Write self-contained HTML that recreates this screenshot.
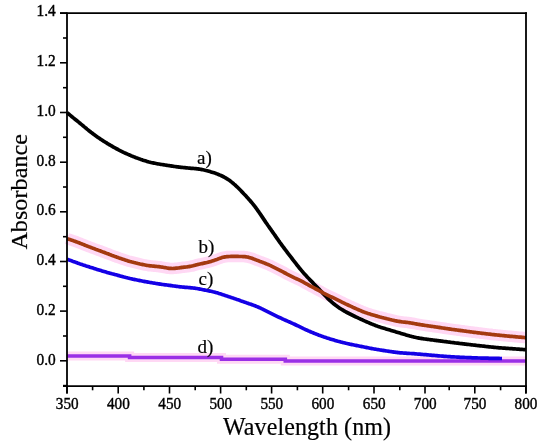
<!DOCTYPE html>
<html><head><meta charset="utf-8"><style>
html,body{margin:0;padding:0;background:#fff;}
svg{display:block;will-change:transform;}
.t{font-family:"Liberation Serif",serif;font-size:16px;fill:#000;stroke:#000;stroke-width:0.4px;}
.l{font-family:"Liberation Serif",serif;font-size:19px;fill:#000;stroke:#000;stroke-width:0.2px;}
.T{font-family:"Liberation Serif",serif;font-size:24px;fill:#000;stroke:#000;stroke-width:0.2px;}
</style></head><body>
<svg width="550" height="447" viewBox="0 0 550 447">
<rect width="550" height="447" fill="#fff"/>
<polyline points="67.0,238.5 68.0,238.9 69.0,239.2 70.0,239.6 71.0,239.9 72.0,240.3 73.0,240.6 74.0,241.0 75.0,241.3 76.0,241.7 77.0,242.1 78.0,242.4 79.0,242.8 80.0,243.2 81.0,243.6 82.0,244.0 83.0,244.4 84.0,244.8 85.0,245.2 86.0,245.6 87.0,246.0 88.0,246.4 89.0,246.8 90.0,247.1 91.0,247.5 92.0,247.9 93.0,248.3 94.0,248.6 95.0,249.0 96.0,249.4 97.0,249.7 98.0,250.1 99.0,250.5 100.0,250.8 101.0,251.2 102.0,251.6 103.0,252.0 104.0,252.3 105.0,252.7 106.0,253.1 107.0,253.5 108.0,253.8 109.0,254.2 110.0,254.6 111.0,255.0 112.0,255.4 113.0,255.7 114.0,256.1 115.0,256.5 116.0,256.8 117.0,257.2 118.0,257.5 119.0,257.9 120.0,258.2 121.0,258.6 122.0,258.9 123.0,259.3 124.0,259.6 125.0,259.9 126.0,260.3 127.0,260.6 128.0,260.9 129.0,261.2 130.0,261.5 131.0,261.7 132.0,262.0 133.0,262.2 134.0,262.5 135.0,262.7 136.0,263.0 137.0,263.2 138.0,263.5 139.0,263.7 140.0,264.0 141.0,264.2 142.0,264.4 143.0,264.6 144.0,264.8 145.0,265.0 146.0,265.2 147.0,265.4 148.0,265.5 149.0,265.7 150.0,265.8 151.0,265.9 152.0,266.0 153.0,266.1 154.0,266.2 155.0,266.3 156.0,266.4 157.0,266.5 158.0,266.6 159.0,266.7 160.0,266.8 161.0,267.0 162.0,267.1 163.0,267.3 164.0,267.5 165.0,267.6 166.0,267.8 167.0,268.0 168.0,268.2 169.0,268.3 170.0,268.4 171.0,268.4 172.0,268.5 173.0,268.5 174.0,268.4 175.0,268.3 176.0,268.2 177.0,268.1 178.0,268.0 179.0,267.9 180.0,267.7 181.0,267.6 182.0,267.4 183.0,267.3 184.0,267.2 185.0,267.1 186.0,267.0 187.0,266.9 188.0,266.7 189.0,266.6 190.0,266.4 191.0,266.2 192.0,266.0 193.0,265.8 194.0,265.5 195.0,265.2 196.0,264.9 197.0,264.7 198.0,264.4 199.0,264.2 200.0,264.0 201.0,263.8 202.0,263.6 203.0,263.4 204.0,263.1 205.0,262.9 206.0,262.7 207.0,262.5 208.0,262.2 209.0,261.9 210.0,261.7 211.0,261.4 212.0,261.1 213.0,260.7 214.0,260.4 215.0,260.1 216.0,259.7 217.0,259.4 218.0,259.0 219.0,258.6 220.0,258.2 221.0,257.9 222.0,257.6 223.0,257.3 224.0,257.1 225.0,256.9 226.0,256.8 227.0,256.6 228.0,256.6 229.0,256.5 230.0,256.5 231.0,256.4 232.0,256.4 233.0,256.4 234.0,256.4 235.0,256.4 236.0,256.4 237.0,256.4 238.0,256.4 239.0,256.5 240.0,256.5 241.0,256.5 242.0,256.5 243.0,256.6 244.0,256.6 245.0,256.7 246.0,256.8 247.0,257.0 248.0,257.1 249.0,257.4 250.0,257.7 251.0,258.0 252.0,258.3 253.0,258.7 254.0,259.1 255.0,259.5 256.0,259.9 257.0,260.3 258.0,260.6 259.0,261.0 260.0,261.4 261.0,261.7 262.0,262.1 263.0,262.5 264.0,262.9 265.0,263.3 266.0,263.7 267.0,264.1 268.0,264.5 269.0,264.9 270.0,265.4 271.0,265.8 272.0,266.3 273.0,266.8 274.0,267.3 275.0,267.8 276.0,268.3 277.0,268.8 278.0,269.3 279.0,269.8 280.0,270.3 281.0,270.9 282.0,271.4 283.0,271.9 284.0,272.5 285.0,273.0 286.0,273.5 287.0,274.1 288.0,274.6 289.0,275.1 290.0,275.6 291.0,276.1 292.0,276.6 293.0,277.1 294.0,277.6 295.0,278.1 296.0,278.5 297.0,279.0 298.0,279.4 299.0,279.9 300.0,280.4 301.0,280.9 302.0,281.4 303.0,281.9 304.0,282.5 305.0,283.1 306.0,283.6 307.0,284.2 308.0,284.7 309.0,285.3 310.0,285.8 311.0,286.4 312.0,286.9 313.0,287.4 314.0,287.9 315.0,288.5 316.0,289.0 317.0,289.5 318.0,290.0 319.0,290.6 320.0,291.1 321.0,291.7 322.0,292.2 323.0,292.8 324.0,293.3 325.0,293.8 326.0,294.3 327.0,294.8 328.0,295.3 329.0,295.8 330.0,296.3 331.0,296.8 332.0,297.2 333.0,297.7 334.0,298.2 335.0,298.7 336.0,299.2 337.0,299.7 338.0,300.2 339.0,300.7 340.0,301.2 341.0,301.7 342.0,302.2 343.0,302.6 344.0,303.1 345.0,303.6 346.0,304.1 347.0,304.5 348.0,305.0 349.0,305.5 350.0,305.9 351.0,306.4 352.0,306.8 353.0,307.3 354.0,307.8 355.0,308.2 356.0,308.6 357.0,309.1 358.0,309.5 359.0,310.0 360.0,310.4 361.0,310.8 362.0,311.3 363.0,311.7 364.0,312.1 365.0,312.4 366.0,312.8 367.0,313.1 368.0,313.5 369.0,313.8 370.0,314.1 371.0,314.4 372.0,314.7 373.0,315.0 374.0,315.3 375.0,315.6 376.0,315.9 377.0,316.1 378.0,316.4 379.0,316.7 380.0,317.0 381.0,317.2 382.0,317.5 383.0,317.7 384.0,318.0 385.0,318.2 386.0,318.5 387.0,318.8 388.0,319.0 389.0,319.2 390.0,319.5 391.0,319.7 392.0,320.0 393.0,320.2 394.0,320.4 395.0,320.7 396.0,320.9 397.0,321.1 398.0,321.3 399.0,321.4 400.0,321.6 401.0,321.7 402.0,321.9 403.0,322.0 404.0,322.1 405.0,322.2 406.0,322.3 407.0,322.4 408.0,322.5 409.0,322.7 410.0,322.8 411.0,323.0 412.0,323.2 413.0,323.3 414.0,323.5 415.0,323.7 416.0,323.9 417.0,324.1 418.0,324.3 419.0,324.4 420.0,324.6 421.0,324.8 422.0,324.9 423.0,325.1 424.0,325.2 425.0,325.4 426.0,325.5 427.0,325.7 428.0,325.8 429.0,326.0 430.0,326.1 431.0,326.3 432.0,326.4 433.0,326.5 434.0,326.7 435.0,326.8 436.0,327.0 437.0,327.1 438.0,327.3 439.0,327.4 440.0,327.6 441.0,327.7 442.0,327.9 443.0,328.0 444.0,328.2 445.0,328.3 446.0,328.5 447.0,328.6 448.0,328.8 449.0,328.9 450.0,329.1 451.0,329.2 452.0,329.4 453.0,329.5 454.0,329.6 455.0,329.8 456.0,329.9 457.0,330.0 458.0,330.2 459.0,330.3 460.0,330.4 461.0,330.6 462.0,330.7 463.0,330.8 464.0,331.0 465.0,331.1 466.0,331.2 467.0,331.4 468.0,331.5 469.0,331.6 470.0,331.8 471.0,331.9 472.0,332.0 473.0,332.2 474.0,332.3 475.0,332.4 476.0,332.5 477.0,332.7 478.0,332.8 479.0,332.9 480.0,333.0 481.0,333.2 482.0,333.3 483.0,333.4 484.0,333.5 485.0,333.6 486.0,333.8 487.0,333.9 488.0,334.0 489.0,334.1 490.0,334.2 491.0,334.3 492.0,334.5 493.0,334.6 494.0,334.7 495.0,334.8 496.0,334.9 497.0,335.0 498.0,335.1 499.0,335.2 500.0,335.3 501.0,335.4 502.0,335.5 503.0,335.6 504.0,335.7 505.0,335.8 506.0,335.9 507.0,336.0 508.0,336.1 509.0,336.2 510.0,336.3 511.0,336.3 512.0,336.4 513.0,336.5 514.0,336.6 515.0,336.7 516.0,336.8 517.0,336.9 518.0,337.0 519.0,337.1 520.0,337.2 521.0,337.2 522.0,337.3 523.0,337.4 524.0,337.5 525.0,337.6 526.0,337.7" fill="none" stroke="#ffd8f4" stroke-width="11.5" stroke-linejoin="miter"/>
<polyline points="67.0,356.0 129.6,356.0 129.6,357.5 221.5,357.5 221.5,359.2 285.3,359.2 285.3,361.0 526.0,361.0" fill="none" stroke="#ffd8f4" stroke-width="9"/>
<polyline points="67.0,356.0 129.6,356.0 129.6,357.5 221.5,357.5 221.5,359.2 285.3,359.2 285.3,361.0 526.0,361.0" fill="none" stroke="#9a2fe6" stroke-width="3.6"/>
<polyline points="67.0,259.2 68.0,259.6 69.0,259.9 70.0,260.3 71.0,260.6 72.0,261.0 73.0,261.4 74.0,261.7 75.0,262.1 76.0,262.4 77.0,262.8 78.0,263.2 79.0,263.5 80.0,263.9 81.0,264.2 82.0,264.5 83.0,264.9 84.0,265.2 85.0,265.5 86.0,265.9 87.0,266.2 88.0,266.5 89.0,266.8 90.0,267.2 91.0,267.5 92.0,267.8 93.0,268.1 94.0,268.4 95.0,268.7 96.0,269.1 97.0,269.4 98.0,269.7 99.0,270.0 100.0,270.3 101.0,270.6 102.0,270.9 103.0,271.2 104.0,271.5 105.0,271.8 106.0,272.1 107.0,272.4 108.0,272.7 109.0,272.9 110.0,273.2 111.0,273.5 112.0,273.8 113.0,274.0 114.0,274.3 115.0,274.6 116.0,274.8 117.0,275.1 118.0,275.4 119.0,275.6 120.0,275.9 121.0,276.2 122.0,276.4 123.0,276.7 124.0,277.0 125.0,277.2 126.0,277.5 127.0,277.7 128.0,278.0 129.0,278.2 130.0,278.5 131.0,278.7 132.0,278.9 133.0,279.2 134.0,279.4 135.0,279.6 136.0,279.8 137.0,280.0 138.0,280.2 139.0,280.4 140.0,280.6 141.0,280.8 142.0,281.0 143.0,281.2 144.0,281.4 145.0,281.6 146.0,281.7 147.0,281.9 148.0,282.1 149.0,282.3 150.0,282.5 151.0,282.6 152.0,282.8 153.0,283.0 154.0,283.1 155.0,283.3 156.0,283.5 157.0,283.6 158.0,283.8 159.0,283.9 160.0,284.1 161.0,284.2 162.0,284.4 163.0,284.5 164.0,284.7 165.0,284.8 166.0,284.9 167.0,285.0 168.0,285.2 169.0,285.3 170.0,285.4 171.0,285.6 172.0,285.7 173.0,285.9 174.0,286.0 175.0,286.1 176.0,286.3 177.0,286.4 178.0,286.5 179.0,286.7 180.0,286.8 181.0,286.9 182.0,287.0 183.0,287.1 184.0,287.2 185.0,287.3 186.0,287.3 187.0,287.4 188.0,287.5 189.0,287.6 190.0,287.7 191.0,287.8 192.0,287.9 193.0,288.0 194.0,288.1 195.0,288.2 196.0,288.4 197.0,288.5 198.0,288.7 199.0,288.9 200.0,289.1 201.0,289.3 202.0,289.5 203.0,289.7 204.0,289.9 205.0,290.1 206.0,290.3 207.0,290.5 208.0,290.7 209.0,290.9 210.0,291.1 211.0,291.3 212.0,291.5 213.0,291.8 214.0,292.0 215.0,292.3 216.0,292.6 217.0,292.8 218.0,293.1 219.0,293.5 220.0,293.8 221.0,294.1 222.0,294.4 223.0,294.8 224.0,295.1 225.0,295.4 226.0,295.8 227.0,296.1 228.0,296.4 229.0,296.8 230.0,297.1 231.0,297.4 232.0,297.8 233.0,298.1 234.0,298.4 235.0,298.8 236.0,299.1 237.0,299.5 238.0,299.8 239.0,300.1 240.0,300.5 241.0,300.9 242.0,301.2 243.0,301.6 244.0,301.9 245.0,302.3 246.0,302.6 247.0,303.0 248.0,303.3 249.0,303.7 250.0,304.0 251.0,304.3 252.0,304.7 253.0,305.1 254.0,305.4 255.0,305.8 256.0,306.2 257.0,306.6 258.0,307.0 259.0,307.5 260.0,307.9 261.0,308.4 262.0,308.9 263.0,309.3 264.0,309.8 265.0,310.3 266.0,310.8 267.0,311.3 268.0,311.8 269.0,312.3 270.0,312.8 271.0,313.3 272.0,313.8 273.0,314.3 274.0,314.8 275.0,315.3 276.0,315.8 277.0,316.3 278.0,316.8 279.0,317.3 280.0,317.7 281.0,318.2 282.0,318.7 283.0,319.1 284.0,319.6 285.0,320.0 286.0,320.5 287.0,320.9 288.0,321.4 289.0,321.8 290.0,322.2 291.0,322.7 292.0,323.1 293.0,323.6 294.0,324.0 295.0,324.5 296.0,325.0 297.0,325.5 298.0,325.9 299.0,326.4 300.0,326.9 301.0,327.4 302.0,327.9 303.0,328.4 304.0,328.9 305.0,329.3 306.0,329.8 307.0,330.2 308.0,330.7 309.0,331.1 310.0,331.5 311.0,332.0 312.0,332.4 313.0,332.8 314.0,333.2 315.0,333.6 316.0,334.0 317.0,334.4 318.0,334.8 319.0,335.2 320.0,335.5 321.0,335.9 322.0,336.3 323.0,336.6 324.0,337.0 325.0,337.3 326.0,337.6 327.0,338.0 328.0,338.3 329.0,338.6 330.0,338.9 331.0,339.2 332.0,339.5 333.0,339.8 334.0,340.1 335.0,340.4 336.0,340.7 337.0,341.0 338.0,341.3 339.0,341.5 340.0,341.8 341.0,342.1 342.0,342.3 343.0,342.6 344.0,342.8 345.0,343.0 346.0,343.3 347.0,343.5 348.0,343.7 349.0,343.9 350.0,344.2 351.0,344.4 352.0,344.6 353.0,344.8 354.0,345.0 355.0,345.2 356.0,345.4 357.0,345.6 358.0,345.8 359.0,346.0 360.0,346.2 361.0,346.4 362.0,346.6 363.0,346.8 364.0,347.0 365.0,347.2 366.0,347.4 367.0,347.6 368.0,347.8 369.0,348.0 370.0,348.2 371.0,348.4 372.0,348.6 373.0,348.8 374.0,349.0 375.0,349.1 376.0,349.3 377.0,349.5 378.0,349.6 379.0,349.8 380.0,350.0 381.0,350.1 382.0,350.3 383.0,350.4 384.0,350.6 385.0,350.7 386.0,350.9 387.0,351.0 388.0,351.2 389.0,351.3 390.0,351.5 391.0,351.6 392.0,351.8 393.0,351.9 394.0,352.1 395.0,352.2 396.0,352.3 397.0,352.4 398.0,352.6 399.0,352.7 400.0,352.8 401.0,352.8 402.0,352.9 403.0,353.0 404.0,353.1 405.0,353.1 406.0,353.2 407.0,353.3 408.0,353.3 409.0,353.4 410.0,353.5 411.0,353.5 412.0,353.6 413.0,353.7 414.0,353.7 415.0,353.8 416.0,353.9 417.0,354.0 418.0,354.1 419.0,354.1 420.0,354.2 421.0,354.3 422.0,354.4 423.0,354.5 424.0,354.6 425.0,354.7 426.0,354.7 427.0,354.8 428.0,354.9 429.0,355.0 430.0,355.1 431.0,355.2 432.0,355.3 433.0,355.4 434.0,355.4 435.0,355.5 436.0,355.6 437.0,355.7 438.0,355.8 439.0,355.9 440.0,356.0 441.0,356.0 442.0,356.1 443.0,356.2 444.0,356.3 445.0,356.3 446.0,356.4 447.0,356.5 448.0,356.6 449.0,356.6 450.0,356.7 451.0,356.8 452.0,356.8 453.0,356.9 454.0,356.9 455.0,357.0 456.0,357.0 457.0,357.1 458.0,357.2 459.0,357.2 460.0,357.3 461.0,357.3 462.0,357.4 463.0,357.4 464.0,357.4 465.0,357.5 466.0,357.5 467.0,357.6 468.0,357.6 469.0,357.7 470.0,357.7 471.0,357.7 472.0,357.8 473.0,357.8 474.0,357.8 475.0,357.9 476.0,357.9 477.0,357.9 478.0,358.0 479.0,358.0 480.0,358.0 481.0,358.1 482.0,358.1 483.0,358.1 484.0,358.1 485.0,358.2 486.0,358.2 487.0,358.2 488.0,358.2 489.0,358.3 490.0,358.3 491.0,358.3 492.0,358.3 493.0,358.3 494.0,358.4 495.0,358.4 496.0,358.4 497.0,358.4 498.0,358.4 499.0,358.4 500.0,358.5 501.0,358.5 502.0,358.5" fill="none" stroke="#1400e6" stroke-width="3.7" stroke-linejoin="round"/>
<polyline points="67.0,112.7 68.0,113.5 69.0,114.3 70.0,115.1 71.0,115.9 72.0,116.8 73.0,117.6 74.0,118.4 75.0,119.2 76.0,120.0 77.0,120.8 78.0,121.6 79.0,122.4 80.0,123.3 81.0,124.1 82.0,124.9 83.0,125.7 84.0,126.6 85.0,127.4 86.0,128.2 87.0,129.1 88.0,129.9 89.0,130.7 90.0,131.5 91.0,132.3 92.0,133.0 93.0,133.8 94.0,134.6 95.0,135.3 96.0,136.0 97.0,136.7 98.0,137.4 99.0,138.1 100.0,138.8 101.0,139.4 102.0,140.1 103.0,140.7 104.0,141.4 105.0,142.0 106.0,142.6 107.0,143.2 108.0,143.9 109.0,144.5 110.0,145.0 111.0,145.6 112.0,146.2 113.0,146.8 114.0,147.4 115.0,147.9 116.0,148.5 117.0,149.0 118.0,149.5 119.0,150.1 120.0,150.6 121.0,151.1 122.0,151.6 123.0,152.1 124.0,152.6 125.0,153.0 126.0,153.5 127.0,153.9 128.0,154.4 129.0,154.8 130.0,155.2 131.0,155.7 132.0,156.1 133.0,156.5 134.0,156.9 135.0,157.3 136.0,157.7 137.0,158.0 138.0,158.4 139.0,158.8 140.0,159.1 141.0,159.5 142.0,159.8 143.0,160.2 144.0,160.5 145.0,160.8 146.0,161.1 147.0,161.4 148.0,161.7 149.0,162.0 150.0,162.2 151.0,162.5 152.0,162.7 153.0,162.9 154.0,163.1 155.0,163.3 156.0,163.5 157.0,163.7 158.0,163.9 159.0,164.0 160.0,164.2 161.0,164.4 162.0,164.5 163.0,164.7 164.0,164.8 165.0,165.0 166.0,165.2 167.0,165.3 168.0,165.5 169.0,165.6 170.0,165.8 171.0,165.9 172.0,166.1 173.0,166.2 174.0,166.4 175.0,166.5 176.0,166.7 177.0,166.8 178.0,166.9 179.0,167.1 180.0,167.2 181.0,167.3 182.0,167.4 183.0,167.5 184.0,167.6 185.0,167.7 186.0,167.8 187.0,167.9 188.0,168.0 189.0,168.1 190.0,168.2 191.0,168.3 192.0,168.3 193.0,168.4 194.0,168.5 195.0,168.6 196.0,168.7 197.0,168.8 198.0,168.9 199.0,169.1 200.0,169.2 201.0,169.4 202.0,169.6 203.0,169.8 204.0,170.0 205.0,170.2 206.0,170.5 207.0,170.7 208.0,171.0 209.0,171.3 210.0,171.6 211.0,171.9 212.0,172.2 213.0,172.5 214.0,172.8 215.0,173.1 216.0,173.5 217.0,173.9 218.0,174.3 219.0,174.7 220.0,175.1 221.0,175.5 222.0,176.0 223.0,176.5 224.0,177.0 225.0,177.6 226.0,178.2 227.0,178.8 228.0,179.4 229.0,180.1 230.0,180.8 231.0,181.6 232.0,182.4 233.0,183.2 234.0,184.1 235.0,184.9 236.0,185.9 237.0,186.8 238.0,187.8 239.0,188.8 240.0,189.8 241.0,190.8 242.0,191.9 243.0,192.9 244.0,194.0 245.0,195.0 246.0,196.1 247.0,197.2 248.0,198.3 249.0,199.4 250.0,200.5 251.0,201.7 252.0,202.9 253.0,204.1 254.0,205.4 255.0,206.7 256.0,208.0 257.0,209.4 258.0,210.8 259.0,212.2 260.0,213.7 261.0,215.1 262.0,216.6 263.0,218.1 264.0,219.6 265.0,221.1 266.0,222.6 267.0,224.0 268.0,225.5 269.0,226.9 270.0,228.3 271.0,229.7 272.0,231.2 273.0,232.6 274.0,234.0 275.0,235.4 276.0,236.9 277.0,238.3 278.0,239.7 279.0,241.2 280.0,242.6 281.0,243.9 282.0,245.3 283.0,246.7 284.0,248.0 285.0,249.3 286.0,250.6 287.0,252.0 288.0,253.3 289.0,254.6 290.0,255.9 291.0,257.2 292.0,258.5 293.0,259.8 294.0,261.1 295.0,262.4 296.0,263.7 297.0,265.0 298.0,266.2 299.0,267.5 300.0,268.7 301.0,269.9 302.0,271.1 303.0,272.3 304.0,273.4 305.0,274.5 306.0,275.6 307.0,276.7 308.0,277.8 309.0,278.8 310.0,279.9 311.0,280.9 312.0,281.9 313.0,282.9 314.0,284.0 315.0,285.0 316.0,286.0 317.0,287.0 318.0,288.1 319.0,289.1 320.0,290.2 321.0,291.3 322.0,292.3 323.0,293.4 324.0,294.4 325.0,295.5 326.0,296.5 327.0,297.6 328.0,298.6 329.0,299.6 330.0,300.5 331.0,301.4 332.0,302.3 333.0,303.2 334.0,304.0 335.0,304.8 336.0,305.6 337.0,306.3 338.0,307.0 339.0,307.7 340.0,308.4 341.0,309.0 342.0,309.6 343.0,310.2 344.0,310.8 345.0,311.4 346.0,312.0 347.0,312.5 348.0,313.0 349.0,313.5 350.0,314.0 351.0,314.5 352.0,315.0 353.0,315.5 354.0,316.0 355.0,316.5 356.0,317.0 357.0,317.4 358.0,317.9 359.0,318.4 360.0,318.8 361.0,319.3 362.0,319.7 363.0,320.2 364.0,320.6 365.0,321.1 366.0,321.5 367.0,322.0 368.0,322.4 369.0,322.8 370.0,323.3 371.0,323.7 372.0,324.1 373.0,324.5 374.0,324.9 375.0,325.3 376.0,325.7 377.0,326.0 378.0,326.4 379.0,326.7 380.0,327.1 381.0,327.4 382.0,327.7 383.0,328.0 384.0,328.3 385.0,328.6 386.0,328.9 387.0,329.2 388.0,329.5 389.0,329.8 390.0,330.1 391.0,330.4 392.0,330.7 393.0,331.0 394.0,331.3 395.0,331.6 396.0,331.9 397.0,332.2 398.0,332.5 399.0,332.8 400.0,333.1 401.0,333.4 402.0,333.7 403.0,334.0 404.0,334.3 405.0,334.6 406.0,334.9 407.0,335.2 408.0,335.5 409.0,335.8 410.0,336.1 411.0,336.3 412.0,336.6 413.0,336.8 414.0,337.1 415.0,337.3 416.0,337.5 417.0,337.7 418.0,337.9 419.0,338.1 420.0,338.3 421.0,338.4 422.0,338.6 423.0,338.7 424.0,338.9 425.0,339.0 426.0,339.1 427.0,339.3 428.0,339.4 429.0,339.5 430.0,339.7 431.0,339.8 432.0,339.9 433.0,340.0 434.0,340.2 435.0,340.3 436.0,340.4 437.0,340.6 438.0,340.7 439.0,340.8 440.0,340.9 441.0,341.1 442.0,341.2 443.0,341.3 444.0,341.5 445.0,341.6 446.0,341.7 447.0,341.8 448.0,342.0 449.0,342.1 450.0,342.2 451.0,342.4 452.0,342.5 453.0,342.6 454.0,342.7 455.0,342.9 456.0,343.0 457.0,343.1 458.0,343.2 459.0,343.3 460.0,343.5 461.0,343.6 462.0,343.7 463.0,343.8 464.0,343.9 465.0,344.1 466.0,344.2 467.0,344.3 468.0,344.4 469.0,344.5 470.0,344.6 471.0,344.8 472.0,344.9 473.0,345.0 474.0,345.1 475.0,345.2 476.0,345.3 477.0,345.5 478.0,345.6 479.0,345.7 480.0,345.8 481.0,345.9 482.0,346.0 483.0,346.1 484.0,346.2 485.0,346.3 486.0,346.5 487.0,346.6 488.0,346.7 489.0,346.8 490.0,346.9 491.0,347.0 492.0,347.1 493.0,347.2 494.0,347.3 495.0,347.4 496.0,347.5 497.0,347.6 498.0,347.7 499.0,347.8 500.0,347.9 501.0,347.9 502.0,348.0 503.0,348.1 504.0,348.2 505.0,348.2 506.0,348.3 507.0,348.4 508.0,348.4 509.0,348.5 510.0,348.6 511.0,348.7 512.0,348.7 513.0,348.8 514.0,348.9 515.0,348.9 516.0,349.0 517.0,349.1 518.0,349.1 519.0,349.2 520.0,349.3 521.0,349.4 522.0,349.4 523.0,349.5 524.0,349.6 525.0,349.6 526.0,349.7" fill="none" stroke="#000" stroke-width="3.7" stroke-linejoin="round"/>
<polyline points="67.0,238.5 68.0,238.9 69.0,239.2 70.0,239.6 71.0,239.9 72.0,240.3 73.0,240.6 74.0,241.0 75.0,241.3 76.0,241.7 77.0,242.1 78.0,242.4 79.0,242.8 80.0,243.2 81.0,243.6 82.0,244.0 83.0,244.4 84.0,244.8 85.0,245.2 86.0,245.6 87.0,246.0 88.0,246.4 89.0,246.8 90.0,247.1 91.0,247.5 92.0,247.9 93.0,248.3 94.0,248.6 95.0,249.0 96.0,249.4 97.0,249.7 98.0,250.1 99.0,250.5 100.0,250.8 101.0,251.2 102.0,251.6 103.0,252.0 104.0,252.3 105.0,252.7 106.0,253.1 107.0,253.5 108.0,253.8 109.0,254.2 110.0,254.6 111.0,255.0 112.0,255.4 113.0,255.7 114.0,256.1 115.0,256.5 116.0,256.8 117.0,257.2 118.0,257.5 119.0,257.9 120.0,258.2 121.0,258.6 122.0,258.9 123.0,259.3 124.0,259.6 125.0,259.9 126.0,260.3 127.0,260.6 128.0,260.9 129.0,261.2 130.0,261.5 131.0,261.7 132.0,262.0 133.0,262.2 134.0,262.5 135.0,262.7 136.0,263.0 137.0,263.2 138.0,263.5 139.0,263.7 140.0,264.0 141.0,264.2 142.0,264.4 143.0,264.6 144.0,264.8 145.0,265.0 146.0,265.2 147.0,265.4 148.0,265.5 149.0,265.7 150.0,265.8 151.0,265.9 152.0,266.0 153.0,266.1 154.0,266.2 155.0,266.3 156.0,266.4 157.0,266.5 158.0,266.6 159.0,266.7 160.0,266.8 161.0,267.0 162.0,267.1 163.0,267.3 164.0,267.5 165.0,267.6 166.0,267.8 167.0,268.0 168.0,268.2 169.0,268.3 170.0,268.4 171.0,268.4 172.0,268.5 173.0,268.5 174.0,268.4 175.0,268.3 176.0,268.2 177.0,268.1 178.0,268.0 179.0,267.9 180.0,267.7 181.0,267.6 182.0,267.4 183.0,267.3 184.0,267.2 185.0,267.1 186.0,267.0 187.0,266.9 188.0,266.7 189.0,266.6 190.0,266.4 191.0,266.2 192.0,266.0 193.0,265.8 194.0,265.5 195.0,265.2 196.0,264.9 197.0,264.7 198.0,264.4 199.0,264.2 200.0,264.0 201.0,263.8 202.0,263.6 203.0,263.4 204.0,263.1 205.0,262.9 206.0,262.7 207.0,262.5 208.0,262.2 209.0,261.9 210.0,261.7 211.0,261.4 212.0,261.1 213.0,260.7 214.0,260.4 215.0,260.1 216.0,259.7 217.0,259.4 218.0,259.0 219.0,258.6 220.0,258.2 221.0,257.9 222.0,257.6 223.0,257.3 224.0,257.1 225.0,256.9 226.0,256.8 227.0,256.6 228.0,256.6 229.0,256.5 230.0,256.5 231.0,256.4 232.0,256.4 233.0,256.4 234.0,256.4 235.0,256.4 236.0,256.4 237.0,256.4 238.0,256.4 239.0,256.5 240.0,256.5 241.0,256.5 242.0,256.5 243.0,256.6 244.0,256.6 245.0,256.7 246.0,256.8 247.0,257.0 248.0,257.1 249.0,257.4 250.0,257.7 251.0,258.0 252.0,258.3 253.0,258.7 254.0,259.1 255.0,259.5 256.0,259.9 257.0,260.3 258.0,260.6 259.0,261.0 260.0,261.4 261.0,261.7 262.0,262.1 263.0,262.5 264.0,262.9 265.0,263.3 266.0,263.7 267.0,264.1 268.0,264.5 269.0,264.9 270.0,265.4 271.0,265.8 272.0,266.3 273.0,266.8 274.0,267.3 275.0,267.8 276.0,268.3 277.0,268.8 278.0,269.3 279.0,269.8 280.0,270.3 281.0,270.9 282.0,271.4 283.0,271.9 284.0,272.5 285.0,273.0 286.0,273.5 287.0,274.1 288.0,274.6 289.0,275.1 290.0,275.6 291.0,276.1 292.0,276.6 293.0,277.1 294.0,277.6 295.0,278.1 296.0,278.5 297.0,279.0 298.0,279.4 299.0,279.9 300.0,280.4 301.0,280.9 302.0,281.4 303.0,281.9 304.0,282.5 305.0,283.1 306.0,283.6 307.0,284.2 308.0,284.7 309.0,285.3 310.0,285.8 311.0,286.4 312.0,286.9 313.0,287.4 314.0,287.9 315.0,288.5 316.0,289.0 317.0,289.5 318.0,290.0 319.0,290.6 320.0,291.1 321.0,291.7 322.0,292.2 323.0,292.8 324.0,293.3 325.0,293.8 326.0,294.3 327.0,294.8 328.0,295.3 329.0,295.8 330.0,296.3 331.0,296.8 332.0,297.2 333.0,297.7 334.0,298.2 335.0,298.7 336.0,299.2 337.0,299.7 338.0,300.2 339.0,300.7 340.0,301.2 341.0,301.7 342.0,302.2 343.0,302.6 344.0,303.1 345.0,303.6 346.0,304.1 347.0,304.5 348.0,305.0 349.0,305.5 350.0,305.9 351.0,306.4 352.0,306.8 353.0,307.3 354.0,307.8 355.0,308.2 356.0,308.6 357.0,309.1 358.0,309.5 359.0,310.0 360.0,310.4 361.0,310.8 362.0,311.3 363.0,311.7 364.0,312.1 365.0,312.4 366.0,312.8 367.0,313.1 368.0,313.5 369.0,313.8 370.0,314.1 371.0,314.4 372.0,314.7 373.0,315.0 374.0,315.3 375.0,315.6 376.0,315.9 377.0,316.1 378.0,316.4 379.0,316.7 380.0,317.0 381.0,317.2 382.0,317.5 383.0,317.7 384.0,318.0 385.0,318.2 386.0,318.5 387.0,318.8 388.0,319.0 389.0,319.2 390.0,319.5 391.0,319.7 392.0,320.0 393.0,320.2 394.0,320.4 395.0,320.7 396.0,320.9 397.0,321.1 398.0,321.3 399.0,321.4 400.0,321.6 401.0,321.7 402.0,321.9 403.0,322.0 404.0,322.1 405.0,322.2 406.0,322.3 407.0,322.4 408.0,322.5 409.0,322.7 410.0,322.8 411.0,323.0 412.0,323.2 413.0,323.3 414.0,323.5 415.0,323.7 416.0,323.9 417.0,324.1 418.0,324.3 419.0,324.4 420.0,324.6 421.0,324.8 422.0,324.9 423.0,325.1 424.0,325.2 425.0,325.4 426.0,325.5 427.0,325.7 428.0,325.8 429.0,326.0 430.0,326.1 431.0,326.3 432.0,326.4 433.0,326.5 434.0,326.7 435.0,326.8 436.0,327.0 437.0,327.1 438.0,327.3 439.0,327.4 440.0,327.6 441.0,327.7 442.0,327.9 443.0,328.0 444.0,328.2 445.0,328.3 446.0,328.5 447.0,328.6 448.0,328.8 449.0,328.9 450.0,329.1 451.0,329.2 452.0,329.4 453.0,329.5 454.0,329.6 455.0,329.8 456.0,329.9 457.0,330.0 458.0,330.2 459.0,330.3 460.0,330.4 461.0,330.6 462.0,330.7 463.0,330.8 464.0,331.0 465.0,331.1 466.0,331.2 467.0,331.4 468.0,331.5 469.0,331.6 470.0,331.8 471.0,331.9 472.0,332.0 473.0,332.2 474.0,332.3 475.0,332.4 476.0,332.5 477.0,332.7 478.0,332.8 479.0,332.9 480.0,333.0 481.0,333.2 482.0,333.3 483.0,333.4 484.0,333.5 485.0,333.6 486.0,333.8 487.0,333.9 488.0,334.0 489.0,334.1 490.0,334.2 491.0,334.3 492.0,334.5 493.0,334.6 494.0,334.7 495.0,334.8 496.0,334.9 497.0,335.0 498.0,335.1 499.0,335.2 500.0,335.3 501.0,335.4 502.0,335.5 503.0,335.6 504.0,335.7 505.0,335.8 506.0,335.9 507.0,336.0 508.0,336.1 509.0,336.2 510.0,336.3 511.0,336.3 512.0,336.4 513.0,336.5 514.0,336.6 515.0,336.7 516.0,336.8 517.0,336.9 518.0,337.0 519.0,337.1 520.0,337.2 521.0,337.2 522.0,337.3 523.0,337.4 524.0,337.5 525.0,337.6 526.0,337.7" fill="none" stroke="#a43a10" stroke-width="3.7" stroke-linejoin="round"/>
<line x1="60" y1="13.2" x2="526.9" y2="13.2" stroke="#000" stroke-width="1.8"/>
<line x1="526" y1="12.3" x2="526" y2="393.5" stroke="#000" stroke-width="1.8"/>
<line x1="67" y1="12.4" x2="67" y2="393.5" stroke="#000" stroke-width="1.8"/>
<line x1="63" y1="386.2" x2="526.8" y2="386.2" stroke="#000" stroke-width="1.8"/>
<line x1="63" y1="385.6" x2="67" y2="385.6" stroke="#000" stroke-width="1.6"/>
<line x1="60" y1="360.8" x2="67" y2="360.8" stroke="#000" stroke-width="1.6"/>
<text transform="translate(55.8,364.7) scale(0.96,1.06)" text-anchor="end" class="t">0.0</text>
<line x1="63" y1="336.0" x2="67" y2="336.0" stroke="#000" stroke-width="1.6"/>
<line x1="60" y1="311.1" x2="67" y2="311.1" stroke="#000" stroke-width="1.6"/>
<text transform="translate(55.8,314.9) scale(0.96,1.06)" text-anchor="end" class="t">0.2</text>
<line x1="63" y1="286.3" x2="67" y2="286.3" stroke="#000" stroke-width="1.6"/>
<line x1="60" y1="261.5" x2="67" y2="261.5" stroke="#000" stroke-width="1.6"/>
<text transform="translate(55.8,265.1) scale(0.96,1.06)" text-anchor="end" class="t">0.4</text>
<line x1="63" y1="236.7" x2="67" y2="236.7" stroke="#000" stroke-width="1.6"/>
<line x1="60" y1="211.8" x2="67" y2="211.8" stroke="#000" stroke-width="1.6"/>
<text transform="translate(55.8,215.3) scale(0.96,1.06)" text-anchor="end" class="t">0.6</text>
<line x1="63" y1="187.0" x2="67" y2="187.0" stroke="#000" stroke-width="1.6"/>
<line x1="60" y1="162.2" x2="67" y2="162.2" stroke="#000" stroke-width="1.6"/>
<text transform="translate(55.8,165.5) scale(0.96,1.06)" text-anchor="end" class="t">0.8</text>
<line x1="63" y1="137.3" x2="67" y2="137.3" stroke="#000" stroke-width="1.6"/>
<line x1="60" y1="112.5" x2="67" y2="112.5" stroke="#000" stroke-width="1.6"/>
<text transform="translate(55.8,115.7) scale(0.96,1.06)" text-anchor="end" class="t">1.0</text>
<line x1="63" y1="87.7" x2="67" y2="87.7" stroke="#000" stroke-width="1.6"/>
<line x1="60" y1="62.8" x2="67" y2="62.8" stroke="#000" stroke-width="1.6"/>
<text transform="translate(55.8,65.9) scale(0.96,1.06)" text-anchor="end" class="t">1.2</text>
<line x1="63" y1="38.0" x2="67" y2="38.0" stroke="#000" stroke-width="1.6"/>
<line x1="60" y1="13.2" x2="67" y2="13.2" stroke="#000" stroke-width="1.6"/>
<text transform="translate(55.8,16.1) scale(0.96,1.06)" text-anchor="end" class="t">1.4</text>
<line x1="67.0" y1="386" x2="67.0" y2="393.5" stroke="#000" stroke-width="1.6"/>
<text transform="translate(67.2,409) scale(0.95,1.04)" text-anchor="middle" class="t">350</text>
<line x1="92.6" y1="386" x2="92.6" y2="390.3" stroke="#000" stroke-width="1.6"/>
<line x1="118.2" y1="386" x2="118.2" y2="393.5" stroke="#000" stroke-width="1.6"/>
<text transform="translate(118.4,409) scale(0.95,1.04)" text-anchor="middle" class="t">400</text>
<line x1="143.9" y1="386" x2="143.9" y2="390.3" stroke="#000" stroke-width="1.6"/>
<line x1="169.5" y1="386" x2="169.5" y2="393.5" stroke="#000" stroke-width="1.6"/>
<text transform="translate(169.7,409) scale(0.95,1.04)" text-anchor="middle" class="t">450</text>
<line x1="195.2" y1="386" x2="195.2" y2="390.3" stroke="#000" stroke-width="1.6"/>
<line x1="220.6" y1="386" x2="220.6" y2="393.5" stroke="#000" stroke-width="1.6"/>
<text transform="translate(220.8,409) scale(0.95,1.04)" text-anchor="middle" class="t">500</text>
<line x1="246.3" y1="386" x2="246.3" y2="390.3" stroke="#000" stroke-width="1.6"/>
<line x1="271.6" y1="386" x2="271.6" y2="393.5" stroke="#000" stroke-width="1.6"/>
<text transform="translate(271.8,409) scale(0.95,1.04)" text-anchor="middle" class="t">550</text>
<line x1="297.4" y1="386" x2="297.4" y2="390.3" stroke="#000" stroke-width="1.6"/>
<line x1="322.7" y1="386" x2="322.7" y2="393.5" stroke="#000" stroke-width="1.6"/>
<text transform="translate(322.9,409) scale(0.95,1.04)" text-anchor="middle" class="t">600</text>
<line x1="348.6" y1="386" x2="348.6" y2="390.3" stroke="#000" stroke-width="1.6"/>
<line x1="374.0" y1="386" x2="374.0" y2="393.5" stroke="#000" stroke-width="1.6"/>
<text transform="translate(374.2,409) scale(0.95,1.04)" text-anchor="middle" class="t">650</text>
<line x1="399.8" y1="386" x2="399.8" y2="390.3" stroke="#000" stroke-width="1.6"/>
<line x1="425.0" y1="386" x2="425.0" y2="393.5" stroke="#000" stroke-width="1.6"/>
<text transform="translate(425.2,409) scale(0.95,1.04)" text-anchor="middle" class="t">700</text>
<line x1="449.2" y1="386" x2="449.2" y2="390.3" stroke="#000" stroke-width="1.6"/>
<line x1="474.8" y1="386" x2="474.8" y2="393.5" stroke="#000" stroke-width="1.6"/>
<text transform="translate(475.0,409) scale(0.95,1.04)" text-anchor="middle" class="t">750</text>
<line x1="500.6" y1="386" x2="500.6" y2="390.3" stroke="#000" stroke-width="1.6"/>
<line x1="525.8" y1="386" x2="525.8" y2="393.5" stroke="#000" stroke-width="1.6"/>
<text transform="translate(526.0,409) scale(0.95,1.04)" text-anchor="middle" class="t">800</text>
<text x="197" y="164" class="l">a)</text>
<text x="198.5" y="253.3" class="l">b)</text>
<text x="198.5" y="284.8" class="l">c)</text>
<text x="197.4" y="352.7" class="l">d)</text>
<text transform="translate(223,434.7) scale(1,1.08)" class="T" letter-spacing="0.1">Wavelength (nm)</text>
<text transform="translate(27.2,249.6) rotate(-90)" class="T" letter-spacing="0.1">Absorbance</text>
</svg>
</body></html>
